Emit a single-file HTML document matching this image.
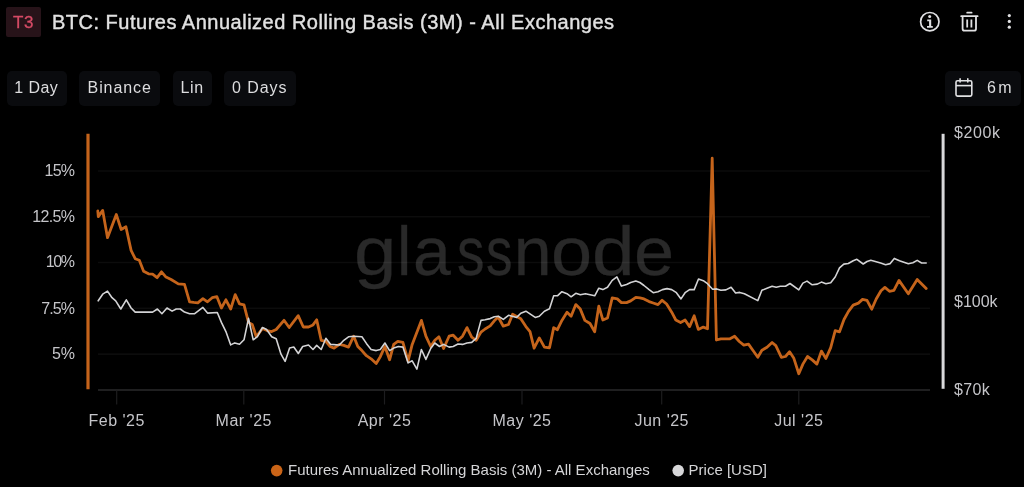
<!DOCTYPE html>
<html><head><meta charset="utf-8"><title>BTC: Futures Annualized Rolling Basis (3M) - All Exchanges</title>
<style>
html,body{margin:0;padding:0;background:#000;}
body{width:1024px;height:487px;position:relative;overflow:hidden;font-family:"Liberation Sans",sans-serif;color:#d6d6d8;}
#root{position:absolute;left:0;top:0;width:1024px;height:487px;will-change:transform;opacity:0.999;}
#badge{position:absolute;left:6px;top:7px;width:35px;height:30px;background:#28141a;border-radius:2px;color:#d64c67;-webkit-text-stroke:0.3px #d64c67;font-size:17px;line-height:32px;text-align:center;letter-spacing:0.5px;}
#title{position:absolute;left:52px;top:9px;height:26px;line-height:26px;font-size:20px;color:#e2e2e2;white-space:nowrap;letter-spacing:0.5px;-webkit-text-stroke:0.4px #e2e2e2;}
.btn{position:absolute;top:70.5px;height:35px;background:#0b0c0f;border-radius:5px;}
.bt{position:absolute;top:71px;height:34px;line-height:34px;font-size:16px;color:#dedee0;white-space:nowrap;}
.yl{position:absolute;left:0;width:75px;text-align:right;font-size:16px;line-height:20px;color:#c6c6ca;white-space:nowrap;}
.xl{position:absolute;top:410.5px;width:80px;text-align:center;font-size:16px;line-height:20px;color:#c6c6ca;white-space:nowrap;letter-spacing:0.5px;}
.rl{position:absolute;left:954px;font-size:16px;line-height:20px;color:#c6c6ca;white-space:nowrap;letter-spacing:0.3px;}
#wm{position:absolute;left:0;top:217.4px;width:1024px;height:68px;font-size:68px;line-height:68px;white-space:nowrap;color:#2a2a2a;-webkit-text-stroke:0.3px #2a2a2a;}
#wm span{display:inline-block;transform-origin:0 0;}
.lg{position:absolute;top:459.8px;font-size:15px;line-height:20px;color:#d6d6d8;white-space:nowrap;}
svg{position:absolute;left:0;top:0;}
</style></head><body><div id="root">
<div id="wm"><span style="margin-left:353.90px;transform:scaleX(1.12)">g</span><span style="margin-left:5.38px;transform:scaleX(0.95)">l</span><span style="margin-left:0.81px;transform:scaleX(1.0)">a</span><span style="margin-left:5.72px;transform:scaleX(0.81)">s</span><span style="margin-left:-4.98px;transform:scaleX(0.78)">s</span><span style="margin-left:-5.85px;transform:scaleX(1.0)">n</span><span style="margin-left:-0.26px;transform:scaleX(1.087)">o</span><span style="margin-left:2.82px;transform:scaleX(1.126)">d</span><span style="margin-left:4.60px;transform:scaleX(1.06)">e</span></div>
<div class="btn" style="left:7px;width:60px;"></div>
<div class="btn" style="left:79px;width:81px;"></div>
<div class="btn" style="left:172.5px;width:39.5px;"></div>
<div class="btn" style="left:224px;width:72px;"></div>
<div class="btn" style="left:945px;width:76px;"></div>
<svg width="1024" height="487" viewBox="0 0 1024 487">
<line x1="98" x2="930" y1="171.0" y2="171.0" stroke="#ffffff" stroke-opacity="0.05" stroke-width="1.6"/><line x1="98" x2="930" y1="216.7" y2="216.7" stroke="#ffffff" stroke-opacity="0.05" stroke-width="1.6"/><line x1="98" x2="930" y1="262.5" y2="262.5" stroke="#ffffff" stroke-opacity="0.05" stroke-width="1.6"/><line x1="98" x2="930" y1="308.3" y2="308.3" stroke="#ffffff" stroke-opacity="0.05" stroke-width="1.6"/><line x1="98" x2="930" y1="354.1" y2="354.1" stroke="#ffffff" stroke-opacity="0.05" stroke-width="1.6"/>
<line x1="98" x2="930" y1="390" y2="390" stroke="#2b2b2d" stroke-width="1.6"/>
<line x1="116.7" x2="116.7" y1="390" y2="404.5" stroke="#1e1e20" stroke-width="1.2"/><line x1="243.8" x2="243.8" y1="390" y2="404.5" stroke="#1e1e20" stroke-width="1.2"/><line x1="384.5" x2="384.5" y1="390" y2="404.5" stroke="#1e1e20" stroke-width="1.2"/><line x1="522" x2="522" y1="390" y2="404.5" stroke="#1e1e20" stroke-width="1.2"/><line x1="661.7" x2="661.7" y1="390" y2="404.5" stroke="#1e1e20" stroke-width="1.2"/><line x1="798.8" x2="798.8" y1="390" y2="404.5" stroke="#1e1e20" stroke-width="1.2"/>
<polyline points="97.8,211 98.3,216.6 102.7,210.4 107.5,237.7 116.3,214.5 121.2,229.5 125.9,226.8 131.1,250.4 135.2,258.7 139.3,260.3 143.6,271.2 148.5,273.8 152.6,274.1 157.1,277.7 161.5,271.8 166,277.1 171.1,279.5 178.3,283.9 184.5,284.4 189.6,301.8 193.7,302.4 197.8,302.9 202.9,298.7 207.5,301.8 212.2,297.7 216.9,296.7 221.4,308 225.9,299.8 230.7,309 235.2,294.6 239.5,303.9 244,304.9 248.5,322.4 252.2,324.4 256.3,336.7 262.5,328.5 267,330.6 271.7,331.6 276.2,329.5 284,320.3 289.2,327.5 298.2,315.7 303.3,327 308.5,327 313,324.9 316.7,319.8 321.2,340.3 325.9,341.3 330,346.5 334.1,348.1 339.3,344.4 343.8,345.4 348.5,347.1 353.7,336.2 357.8,346.5 361.9,350.6 366.4,355.7 371.1,358.8 376.2,363.5 380.3,356.7 384.9,346.5 389.6,359.8 393.7,344.4 397.8,341.3 402.9,342.4 408.1,360.8 412.2,344.4 421.4,320.4 425.9,336.2 430.7,346.5 434.8,340.3 438.9,336.8 443.6,348.5 449.1,336.2 453.2,335.2 458,340.3 462.5,336.2 467,327.6 471.7,337.2 476.2,340.3 481,332.1 485.1,329 490.2,325.9 494.3,320.8 498.2,317.0 503.3,326.2 508.5,324.5 512.6,314.3 520.8,318.8 525.9,326.6 530,331.7 534.1,348.2 539.3,337.9 544.4,347.1 549.5,347.8 553.7,327.6 557.4,329.7 561.9,320.4 567,312.2 571.1,316.3 575.8,304.6 580.3,309.1 584.9,320.4 590,323.5 594.7,331.7 598.8,306.1 602.9,320 607.5,318 612.2,297.9 617.3,298.9 621.4,302.6 626.6,302.6 630.7,300.9 635.8,297.4 639.9,297.9 644,298.9 649.1,301.6 653.2,303 658,304.6 662.1,300.3 666.6,304 671.7,312.2 675.8,320 680.6,322.5 685.1,320 689.6,326.6 694.2,315.8 698.3,329.4 703.3,327.1 707.5,328.7 712.2,158.2 716.4,340 720.8,338.8 725.9,338.8 730,338.8 734.6,336.3 739.3,341.5 743.8,345.2 748.5,344.1 753.2,350.7 757.8,357.3 761.9,350.3 767,347.2 772.1,342.5 775.8,345.6 781.4,357.3 785.5,356.5 789.6,351.7 793.7,357.9 798.8,373.7 802.9,364.1 807.5,356.5 812.2,359.9 816.9,364.1 821.4,351.1 825.9,358.5 830.7,347.6 835.2,330.6 839.5,331.8 844,319.5 848.5,311.3 853.2,305.1 858.4,303.1 862.5,299.4 867,300.4 871.7,309.2 876.2,299 881,290.7 884.9,287.4 889.5,291.3 893.9,290.4 899,280.4 908.3,293.8 917.2,279.4 926.2,288.6" fill="none" stroke="#c6651c" stroke-width="2.8" stroke-linejoin="round" stroke-linecap="round"/>
<polyline points="98.2,300.8 102.7,294.2 107.5,291.1 112,297.7 115.7,300.8 120.8,309 126.3,299.8 131.1,308 135.2,312.1 152.6,312.1 157.4,309 161.9,313.7 167,308 172.1,311.1 176.2,309 180.3,309 184.5,312.1 189.6,313.7 194.7,313.7 202.9,307.4 207.5,313.1 217.3,312.5 221.4,322.4 225.9,331.6 230.7,344.9 234.8,342.9 239.5,344.3 244,339.8 248.5,318.3 253.2,339.8 257.4,336.7 262.5,327.5 266.6,329.5 271.7,336.7 276.2,338.8 281,354.2 285.1,361.4 289.6,348 293.8,347 298.3,353.5 302.7,346.5 308.5,345 313,349.5 316.7,345.4 321.2,349.5 325.9,338.3 330.7,344.4 339.3,345 343.8,340.3 348.5,336.8 353.7,336.2 361.9,336.8 366.4,343.4 371.1,349.5 376.2,350.6 380.3,349.5 384.9,343 389.6,350.6 393.7,348.1 398.4,346.5 402.9,347.1 408.1,362.9 412.2,360.8 416.9,369.1 421.4,349.5 425.9,359.4 430.7,348.5 434.8,343 439.5,346.5 443.6,344.4 449.1,347.1 453.2,346.5 458,344 462.5,344.4 467,343 471.7,342.4 476.2,338.3 481,320.4 485.1,319.8 490.2,318.6 494.3,316.7 498.3,316.3 503.3,319.4 508.5,315.3 516.7,317.4 520.8,313.3 525.9,311.2 535.2,317.4 539.3,316.3 544.4,311.2 549.5,308.7 553.7,295.8 557.4,295.8 561.9,291.7 567,293.7 571.1,296.8 575.8,293.3 580.3,294.8 585.5,293.7 594.7,295.8 598.8,288.2 602.9,289.6 607.5,287.2 612.2,280.4 616.9,276.9 621.4,286.1 626.6,284.5 630.7,282.5 635.8,281 639.9,282.5 644,285.5 649.1,289.6 653.2,292.7 658,291.7 662.5,289.6 667,288.6 671.7,289.6 676.4,292.7 681,298.9 685.1,292.7 689.6,289.6 694.2,289.6 698.5,279 703.3,280.7 707.5,283.7 712.6,289.3 716.7,288.9 720.8,290.3 725.9,289.9 731.1,287.2 735.6,293 739.7,292.4 744.4,293.8 757.8,300.6 761.9,290.3 767,288.3 772.1,286.2 776.2,287.2 780.3,286.2 785.5,286.2 790,283.5 798.8,289.9 802.9,283.1 807,281.1 812.2,284.8 817.3,284.1 821.4,282.1 825.9,283.7 830.7,282.7 835.2,277 839.5,267.9 843.8,264.1 848.3,263.5 853.2,260.7 856.9,259.3 863.2,264 867,261.5 870.8,260.3 876.2,261.8 880.6,263 885.6,264.7 890.2,263.6 894.3,258.4 899.5,260.8 908.3,263.8 912.9,262.7 917.2,260.4 921.6,263 926.2,263" fill="none" stroke="#d4d4d6" stroke-width="1.6" stroke-linejoin="round" stroke-linecap="round"/>
<line x1="88" x2="88" y1="133.7" y2="389.3" stroke="#c5641c" stroke-width="3.2"/>
<line x1="943.1" x2="943.1" y1="133.8" y2="388.8" stroke="#dadadc" stroke-width="3"/>
<circle cx="276.7" cy="470.6" r="5.8" fill="#cb6518"/>
<circle cx="678.2" cy="470.6" r="5.8" fill="#d8d8da"/>
<!-- info icon -->
<g fill="none" stroke="#e2e2e4" stroke-width="1.7">
<circle cx="929.8" cy="21.7" r="9.2"/>
</g>
<g fill="#e2e2e4">
<circle cx="929.7" cy="16.4" r="1.5"/>
<path d="M927.2 19.4h4v6.6h1.6v1.8h-5.8v-1.8h2.1v-4.8h-1.9z"/>
</g>
<!-- trash icon -->
<g fill="none" stroke="#e2e2e4" stroke-width="1.8" stroke-linejoin="round">
<path d="M962.6 16.5v12.2a2 2 0 0 0 2 2h9.4a2 2 0 0 0 2-2V16.5"/>
<path d="M961.2 16.2h16.4" stroke-linecap="round"/>
<path d="M967.2 12.7h4.4" stroke-linecap="round"/>
<path d="M967.2 19.5v8M971.4 19.5v8"/>
</g>
<!-- dots -->
<g fill="#e2e2e4"><circle cx="1009.3" cy="15.6" r="1.6"/><circle cx="1009.3" cy="21.4" r="1.6"/><circle cx="1009.3" cy="27.2" r="1.6"/></g>
<!-- calendar -->
<g fill="none" stroke="#e2e2e4" stroke-width="1.6" stroke-linejoin="round">
<rect x="956" y="80.8" width="15.8" height="15.3" rx="1.5"/>
<path d="M956 85.6h15.8"/>
<path d="M960.1 78.9v3M967.8 78.9v3" stroke-linecap="round"/>
</g>
</svg>
<div id="badge">T3</div>
<div id="title">BTC: Futures Annualized Rolling Basis (3M) - All Exchanges</div>
<div class="bt" style="left:14.2px;letter-spacing:0.45px;">1 Day</div>
<div class="bt" style="left:87.6px;letter-spacing:0.9px;">Binance</div>
<div class="bt" style="left:180.6px;letter-spacing:0.6px;">Lin</div>
<div class="bt" style="left:232px;letter-spacing:0.95px;">0 Days</div>
<div class="bt" style="left:987px;letter-spacing:2.4px;">6m</div>
<div class="yl" style="top:161.0px;letter-spacing:-0.8px;width:74.2px">15%</div><div class="yl" style="top:206.7px;letter-spacing:-0.68px;width:74.32px">12.5%</div><div class="yl" style="top:252.4px;letter-spacing:-1.4px;width:73.6px">10%</div><div class="yl" style="top:298.5px;letter-spacing:-0.9px;width:74.1px">7.5%</div><div class="yl" style="top:344.3px;letter-spacing:0px;width:75px">5%</div>
<div class="xl" style="left:76.7px">Feb '25</div><div class="xl" style="left:203.8px">Mar '25</div><div class="xl" style="left:344.5px">Apr '25</div><div class="xl" style="left:482px">May '25</div><div class="xl" style="left:621.7px">Jun '25</div><div class="xl" style="left:758.8px">Jul '25</div>
<div class="rl" style="top:123.3px;letter-spacing:0.6px;">$200k</div>
<div class="rl" style="top:292.3px;letter-spacing:0px;">$100k</div>
<div class="rl" style="top:379.7px;letter-spacing:0.33px;">$70k</div>
<div class="lg" style="left:288px;">Futures Annualized Rolling Basis (3M) - All Exchanges</div>
<div class="lg" style="left:688.6px;">Price [USD]</div>
</div></body></html>
